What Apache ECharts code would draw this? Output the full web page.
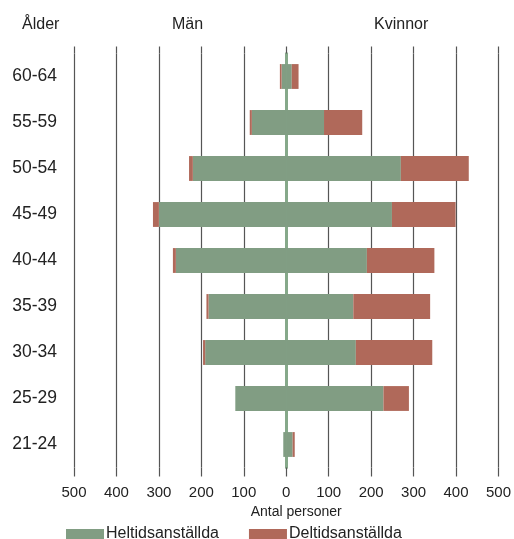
<!DOCTYPE html>
<html>
<head>
<meta charset="utf-8">
<script src="https://cdn.jsdelivr.net/npm/echarts@6/dist/echarts.min.js"></script>
<style>
  html, body { margin: 0; padding: 0; background: #fff; }
  #chart { width: 514px; height: 539px; }
</style>
</head>
<body>
<div id="chart"></div>
<script>
// Åldersgrupper, nerifrån och upp
const ageGroups = ['21-24', '25-29', '30-34', '35-39', '40-44', '45-49', '50-54', '55-59', '60-64'];

// Antal personer per åldersgrupp
const menFullTime   = [7, 120, 191, 183, 260, 300, 220, 81, 11];
const menPartTime   = [0, 0, 5, 5, 7, 14, 9, 5, 4];
const womenFullTime = [15, 229, 164, 158, 190, 249, 270, 89, 13];
const womenPartTime = [5, 60, 180, 181, 159, 150, 160, 90, 16];

const xTicks = { min: -500, max: 500, interval: 100 };

const green = '#819d83';
const red = '#b0695a';
const gridColor = '#555';
const font = 'Liberation Sans, Arial, sans-serif';

const neg = arr => arr.map(v => -v);

const chart = echarts.init(document.getElementById('chart'));

function barSeries(name, data, color) {
  return {
    type: 'bar',
    stack: 'pyramid',
    barWidth: '54%',
    name: name,
    data: data,
    itemStyle: { color: color }
  };
}

const headStyle = { fontSize: 16, fontWeight: 'normal', color: '#222' };

chart.setOption({
  animation: false,
  textStyle: { fontFamily: font },
  title: [
    { text: 'Ålder', left: 17, top: 12, textStyle: headStyle },
    { text: 'Män', left: 167, top: 12, textStyle: headStyle },
    { text: 'Kvinnor', left: 369, top: 12, textStyle: headStyle }
  ],
  grid: { left: 74, right: 15.5, top: 53.5, bottom: 71.5, containLabel: false },
  legend: {
    data: ['Heltidsanställda', 'Deltidsanställda'],
    bottom: -8,
    left: 61,
    itemWidth: 38,
    itemHeight: 10,
    itemGap: 30,
    icon: 'rect',
    textStyle: { fontSize: 16, color: '#222', padding: [0, 0, 0, -3] }
  },
  xAxis: [
    {
      type: 'value',
      position: 'bottom',
      min: xTicks.min, max: xTicks.max, interval: xTicks.interval,
      axisLine: { show: false },
      axisTick: { show: true, length: 9, lineStyle: { color: gridColor, width: 1.2 } },
      axisLabel: { fontSize: 15, color: '#222', margin: 18, formatter: v => String(Math.abs(v)) },
      splitLine: { show: true, lineStyle: { color: gridColor, width: 1.2 } },
      name: 'Antal personer',
      nameLocation: 'middle',
      nameGap: 37,
      nameTextStyle: { fontSize: 14, color: '#222', padding: [0, 0, 0, 20] }
    },
    {
      type: 'value',
      position: 'top',
      min: xTicks.min, max: xTicks.max, interval: xTicks.interval,
      axisLine: { show: false },
      axisTick: { show: true, length: 7, lineStyle: { color: gridColor, width: 1.2 } },
      axisLabel: { show: false },
      splitLine: { show: false }
    }
  ],
  yAxis: [
    {
      type: 'category',
      data: ageGroups,
      axisLine: { show: false },
      axisTick: { show: false },
      axisLabel: { fontSize: 17.5, color: '#222', margin: 17 }
    },
    {
      // mittlinjen vid noll
      type: 'category',
      data: ageGroups,
      position: 'left',
      axisLine: { show: true, onZero: true, lineStyle: { color: '#86a98a', width: 3 } },
      axisTick: { show: false },
      axisLabel: { show: false }
    }
  ],
  series: [
    barSeries('Heltidsanställda', neg(menFullTime), green),
    barSeries('Deltidsanställda', neg(menPartTime), red),
    barSeries('Heltidsanställda', womenFullTime, green),
    barSeries('Deltidsanställda', womenPartTime, red)
  ]
});
</script>
</body>
</html>
